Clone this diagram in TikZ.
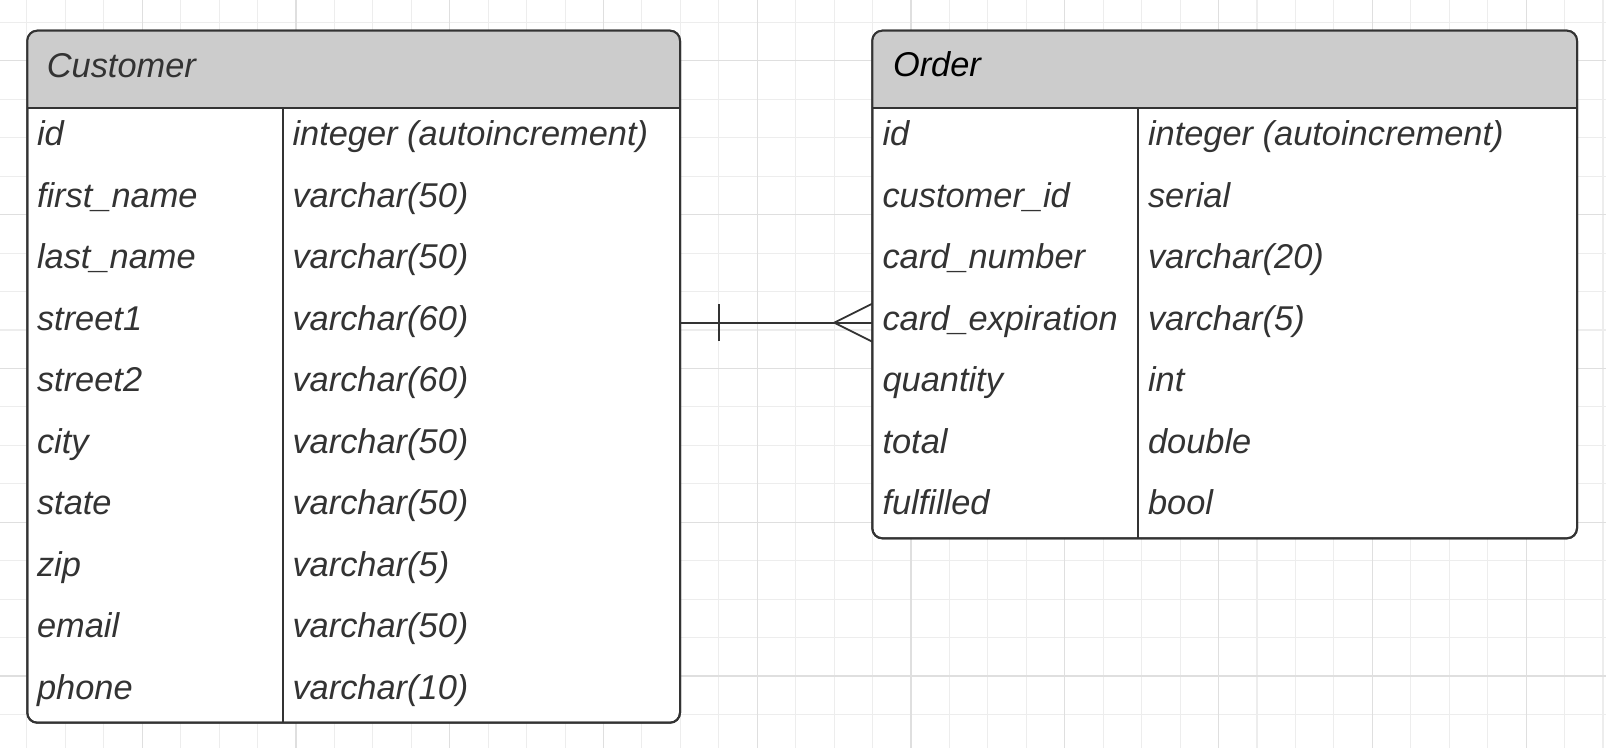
\documentclass[tikz,border=0pt]{standalone}
\usepackage{fontspec}
\setmainfont{Liberation Sans}
\usetikzlibrary{calc}
\definecolor{ink}{HTML}{333333}
\definecolor{headfill}{HTML}{CCCCCC}
\definecolor{gridminor}{HTML}{EDEDED}
\definecolor{gridmajor}{HTML}{DFDFDF}
\begin{document}
\begin{tikzpicture}[x=1pt,y=-1pt,
  tbl/.style={rectangle, draw=ink, line width=2pt, rounded corners=10pt, inner sep=0pt, outer sep=0pt, anchor=north west},
  cell/.style={anchor=base west, inner sep=0pt, outer sep=0pt, text=ink, font=\fontsize{34.4}{40}\selectfont\itshape},
  rule/.style={draw=ink, line width=2pt},
  conn/.style={draw=ink, line width=1.8pt},
  gmin/.style={draw=gridminor, line width=1.1pt},
  gmaj/.style={draw=gridmajor, line width=1.1pt}]
\useasboundingbox (0,0) rectangle (1606,748);
\fill[white] (0,0) rectangle (1606,748);
% grid
\foreach \k in {0,...,41} \draw[gmin] (26.9+\k*38.44,0) -- (26.9+\k*38.44,748);
\foreach \k in {0,...,18} \draw[gmin] (0,22.5+\k*38.44) -- (1606,22.5+\k*38.44);
\foreach \k in {3,7,...,39} \draw[gmaj] (26.9+\k*38.44,0) -- (26.9+\k*38.44,748);
\foreach \k in {1,5,...,17} \draw[gmaj] (0,22.5+\k*38.44) -- (1606,22.5+\k*38.44);
% tables (white bodies)
\node[tbl, fill=white, minimum width=652.7pt, minimum height=692pt] (cust) at (27.3,30.7) {};
\node[tbl, fill=white, minimum width=704.7pt, minimum height=507.6pt] (ord) at (872.3,30.7) {};
% header fills
\begin{scope}
  \clip (0,0) rectangle (1606,107.7);
  \fill[headfill, rounded corners=10pt] (cust.north west) rectangle (cust.south east);
  \fill[headfill, rounded corners=10pt] (ord.north west) rectangle (ord.south east);
\end{scope}
% redraw borders
\node[tbl, minimum width=652.7pt, minimum height=692pt] (custb) at (27.3,30.7) {};
\node[tbl, minimum width=704.7pt, minimum height=507.6pt] (ordb) at (872.3,30.7) {};
% header separators and column dividers
\coordinate (hb) at (0,107.7);
\draw[rule] (cust.west |- hb) -- (cust.east |- hb);
\draw[rule] (ord.west |- hb) -- (ord.east |- hb);
\coordinate (cdiv) at (283.3,0);
\coordinate (odiv) at (1137.8,0);
\draw[rule] (cdiv |- hb) -- (cdiv |- cust.south);
\draw[rule] (odiv |- hb) -- (odiv |- ord.south);
% header titles
\node[cell] (custtitle) at (46.8,77.3) {Customer};
\node[cell, text=black] (ordtitle) at (893,76.7) {Order};
% customer rows
\foreach \a/\b [count=\i from 0] in {id/integer (autoincrement), first\_name/varchar(50), last\_name/varchar(50), street1/varchar(60), street2/varchar(60), city/varchar(50), state/varchar(50), zip/varchar(5), email/varchar(50), phone/varchar(10)} {
  \node[cell] (cn\i) at (37,145.8+61.5*\i) {\a};
  \node[cell] (ct\i) at (292.5,145.8+61.5*\i) {\b};
}
% order rows
\foreach \a/\b [count=\i from 0] in {id/integer (autoincrement), customer\_id/serial, card\_number/varchar(20), card\_expiration/varchar(5), quantity/int, total/double, fulfilled/bool} {
  \node[cell] (on\i) at (882.5,145.8+61.5*\i) {\a};
  \node[cell] (ot\i) at (1148,145.8+61.5*\i) {\b};
}
% relationship: one (customer) to many (order)
\coordinate (r3) at (0,322.7);
\draw[conn] (cust.east |- r3) -- (ord.west |- r3);
\draw[conn] ($(cust.east |- r3)+(39.3,-18.7)$) -- ++(0,37.4);
\draw[conn] ($(ord.west |- r3)+(0,-19)$) -- ++(-38,19) -- ++(38,19);
\end{tikzpicture}
\end{document}
